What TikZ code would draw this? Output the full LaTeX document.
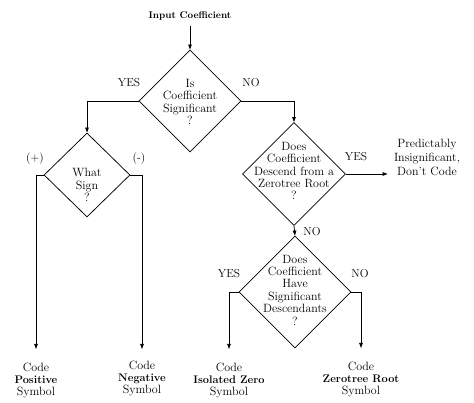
\documentclass[tikz,border=0pt]{standalone}
\usetikzlibrary{shapes.geometric,arrows.meta}
\newcommand{\boldword}[1]{{\fontsize{11}{11.6}\selectfont\bfseries #1}}
\begin{document}
\begin{tikzpicture}[x=1pt,y=-1pt,line width=0.75pt,
  >={Triangle[length=5pt,width=3.5pt]},
  dia/.style n args={2}{draw,diamond,inner sep=0pt,minimum width=#1,minimum height=#2},
  txt/.style={align=center,inner sep=0pt,font=\fontsize{12}{12.4}\selectfont},
  lab/.style={inner sep=0pt,font=\fontsize{11.5}{12}\selectfont},
  outtxt/.style={align=center,inner sep=0pt,anchor=north,font=\fontsize{12}{11.6}\selectfont}]
\useasboundingbox (0,0) rectangle (474,403);
% start
\node[inner sep=0pt,font=\fontsize{9.7}{12}\selectfont\bfseries] (in) at (190,16) {Input Coefficient};
% diamond 1
\node[dia={102pt}{102pt}] (d1) at (190,101) {};
\node[txt] (d1t) at (190,102) {Is\\Coefficient\\Significant\\?};
% sign diamond
\node[dia={86pt}{84pt}] (ds) at (87,175) {};
\node[txt] (dst) at (87,185) {What\\Sign\\?};
% zerotree diamond
\node[dia={103pt}{103pt}] (d2) at (294,174) {};
\node[txt] (d2t) at (294,171) {Does\\Coefficient\\Descend from a\\Zerotree Root\\?};
% descendants diamond
\node[dia={112pt}{112pt}] (d3) at (295,292) {};
\node[txt] (d3t) at (295,290) {Does\\Coefficient\\Have\\Significant\\Descendants\\?};
% predictably insignificant
\node[align=center,inner sep=0pt,font=\fontsize{12}{14}\selectfont] (pred) at (427,157) {Predictably\\Insignificant,\\Don't Code};
% outputs
\node[outtxt] (pos) at (36,363) {Code\\\boldword{Positive}\\Symbol};
\node[outtxt] (neg) at (142,361) {Code\\\boldword{Negative}\\Symbol};
\node[outtxt] (iso) at (229,363) {Code\\\boldword{Isolated Zero}\\Symbol};
\node[outtxt] (zr) at (361,362) {Code\\\boldword{Zerotree Root}\\Symbol};
% labels
\node[lab] (l1) at (129,83) {YES};
\node[lab] (l2) at (251,83) {NO};
\node[lab] (l3) at (35,159) {(+)};
\node[lab] (l4) at (139,159) {(-)};
\node[lab] (l5) at (356,157) {YES};
\node[lab] (l6) at (312,232) {NO};
\node[lab] (l7) at (229,274) {YES};
\node[lab] (l8) at (360,274) {NO};
% connectors
\draw[->,shorten <=5pt] (in.south) -- (d1.north);
\draw[->] (d1.west) -| (ds.north);
\draw[->] (d1.east) -| (d2.north);
\draw[->,shorten >=14pt] (ds.west) -| (pos.north);
\draw[->,shorten >=12pt] (ds.east) -| (neg.north);
\draw[->] (d2.east) -- ([xshift=-6pt]d2.east -| pred.west);
\draw[->] (d2.south) -- (d3.north);
\draw[->,shorten >=14pt] (d3.west) -| (iso.north);
\draw[->,shorten >=14pt] (d3.east) -| (zr.north);
\end{tikzpicture}
\end{document}
